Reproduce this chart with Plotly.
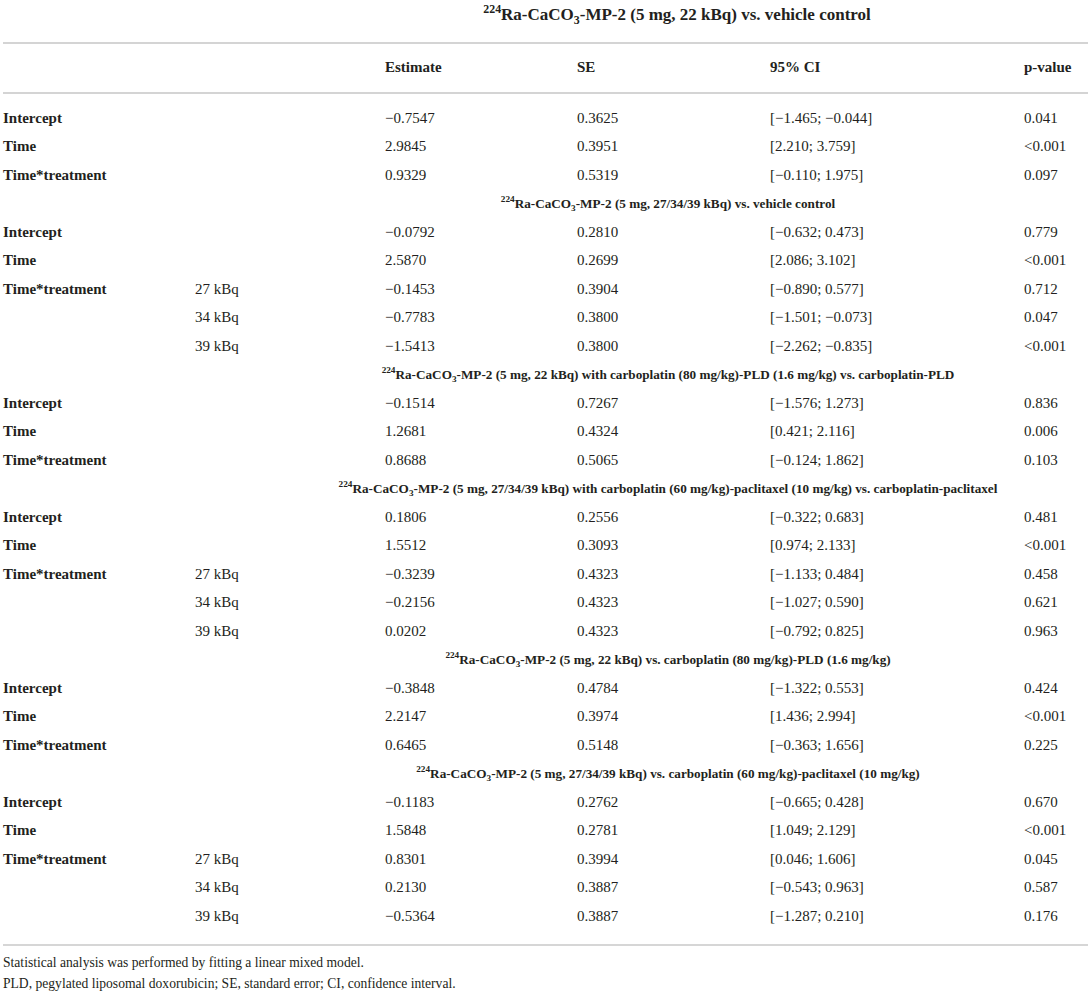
import plotly.graph_objects as go

# ---------------- data ----------------
section_titles = [
    "<sup>224</sup>Ra-CaCO<sub>3</sub>-MP-2 (5 mg, 22 kBq) vs. vehicle control",
    "<sup>224</sup>Ra-CaCO<sub>3</sub>-MP-2 (5 mg, 27/34/39 kBq) vs. vehicle control",
    "<sup>224</sup>Ra-CaCO<sub>3</sub>-MP-2 (5 mg, 22 kBq) with carboplatin (80 mg/kg)-PLD (1.6 mg/kg) vs. carboplatin-PLD",
    "<sup>224</sup>Ra-CaCO<sub>3</sub>-MP-2 (5 mg, 27/34/39 kBq) with carboplatin (60 mg/kg)-paclitaxel (10 mg/kg) vs. carboplatin-paclitaxel",
    "<sup>224</sup>Ra-CaCO<sub>3</sub>-MP-2 (5 mg, 22 kBq) vs. carboplatin (80 mg/kg)-PLD (1.6 mg/kg)",
    "<sup>224</sup>Ra-CaCO<sub>3</sub>-MP-2 (5 mg, 27/34/39 kBq) vs. carboplatin (60 mg/kg)-paclitaxel (10 mg/kg)",
]
column_headers = ["", "", "Estimate", "SE", "95% CI", "p-value"]

row_section = [0, 0, 0,
               1, 1, 1, 1, 1,
               2, 2, 2,
               3, 3, 3, 3, 3,
               4, 4, 4,
               5, 5, 5, 5, 5]
row_term = ["Intercept", "Time", "Time*treatment",
            "Intercept", "Time", "Time*treatment", "", "",
            "Intercept", "Time", "Time*treatment",
            "Intercept", "Time", "Time*treatment", "", "",
            "Intercept", "Time", "Time*treatment",
            "Intercept", "Time", "Time*treatment", "", ""]
row_dose = ["", "", "",
            "", "", "27 kBq", "34 kBq", "39 kBq",
            "", "", "",
            "", "", "27 kBq", "34 kBq", "39 kBq",
            "", "", "",
            "", "", "27 kBq", "34 kBq", "39 kBq"]
estimate = ["−0.7547", "2.9845", "0.9329",
            "−0.0792", "2.5870", "−0.1453", "−0.7783", "−1.5413",
            "−0.1514", "1.2681", "0.8688",
            "0.1806", "1.5512", "−0.3239", "−0.2156", "0.0202",
            "−0.3848", "2.2147", "0.6465",
            "−0.1183", "1.5848", "0.8301", "0.2130", "−0.5364"]
std_error = ["0.3625", "0.3951", "0.5319",
             "0.2810", "0.2699", "0.3904", "0.3800", "0.3800",
             "0.7267", "0.4324", "0.5065",
             "0.2556", "0.3093", "0.4323", "0.4323", "0.4323",
             "0.4784", "0.3974", "0.5148",
             "0.2762", "0.2781", "0.3994", "0.3887", "0.3887"]
ci95 = ["[−1.465; −0.044]", "[2.210; 3.759]", "[−0.110; 1.975]",
        "[−0.632; 0.473]", "[2.086; 3.102]", "[−0.890; 0.577]", "[−1.501; −0.073]", "[−2.262; −0.835]",
        "[−1.576; 1.273]", "[0.421; 2.116]", "[−0.124; 1.862]",
        "[−0.322; 0.683]", "[0.974; 2.133]", "[−1.133; 0.484]", "[−1.027; 0.590]", "[−0.792; 0.825]",
        "[−1.322; 0.553]", "[1.436; 2.994]", "[−0.363; 1.656]",
        "[−0.665; 0.428]", "[1.049; 2.129]", "[0.046; 1.606]", "[−0.543; 0.963]", "[−1.287; 0.210]"]
p_value = ["0.041", "<0.001", "0.097",
           "0.779", "<0.001", "0.712", "0.047", "<0.001",
           "0.836", "0.006", "0.103",
           "0.481", "<0.001", "0.458", "0.621", "0.963",
           "0.424", "<0.001", "0.225",
           "0.670", "<0.001", "0.045", "0.587", "0.176"]
footnotes = [
    "Statistical analysis was performed by fitting a linear mixed model.",
    "PLD, pegylated liposomal doxorubicin; SE, standard error; CI, confidence interval.",
]

# ---------------- layout geometry ----------------
W, H = 1091, 994
col_x = [3, 195, 385, 577, 770, 1024]
y_first = 119
row_step = 28.5
title_y = 16
header_y = 68
rule_top, rule_head, rule_bottom = 43, 93, 945
title_center_x = 677
header_center_x = 668
font = "Liberation Serif"
ink = "#231f20"

# line positions: section headers (except the first, which is the title) take a row
row_y = []
sec_y = {}
k = 0
prev = 0
for s in row_section:
    if s != prev:
        sec_y[s] = y_first + row_step * k
        k += 1
        prev = s
    row_y.append(y_first + row_step * k)
    k += 1

fig = go.Figure()


def add_text(xs, ys, texts, size, bold=False, pos="middle right"):
    pts = [(x, y, t) for x, y, t in zip(xs, ys, texts) if t]
    fig.add_trace(go.Scatter(
        x=[p[0] for p in pts], y=[p[1] for p in pts],
        text=[f"<b>{p[2]}</b>" if bold else p[2] for p in pts],
        mode="text", textposition=pos,
        textfont=dict(family=font, size=size, color=ink),
        hoverinfo="skip", showlegend=False, cliponaxis=False))


# title
add_text([title_center_x], [title_y], [section_titles[0]], 17, bold=True, pos="middle center")
# section headers
add_text([header_center_x] * len(sec_y), list(sec_y.values()),
         [section_titles[s] for s in sec_y], 13.2, bold=True, pos="middle center")
# column headers
add_text(col_x[2:], [header_y] * 4, column_headers[2:], 15, bold=True)
# body columns
add_text([col_x[0]] * len(row_term), row_y, row_term, 15, bold=True)
add_text([col_x[1]] * len(row_dose), row_y, row_dose, 15)
add_text([col_x[2]] * len(estimate), row_y, estimate, 15)
add_text([col_x[3]] * len(std_error), row_y, std_error, 15)
add_text([col_x[4]] * len(ci95), row_y, ci95, 15)
add_text([col_x[5]] * len(p_value), row_y, p_value, 15)
# footnotes
add_text([3, 3], [964, 985], footnotes, 13.6)

for yy, c, w in [(rule_top, "#d4d4d4", 2), (rule_head, "#d4d4d4", 2), (rule_bottom, "#c8c8c8", 1.5)]:
    fig.add_shape(type="line", xref="x", yref="y", x0=3, x1=1088, y0=yy, y1=yy,
                  line=dict(color=c, width=w))

fig.update_layout(
    width=W, height=H, margin=dict(l=0, r=0, t=0, b=0),
    paper_bgcolor="white", plot_bgcolor="white",
    xaxis=dict(range=[0, W], visible=False, fixedrange=True),
    yaxis=dict(range=[H, 0], visible=False, fixedrange=True),
)
fig.write_html("out.html", config={"displayModeBar": False},
               post_script="document.body.style.margin='0';")
